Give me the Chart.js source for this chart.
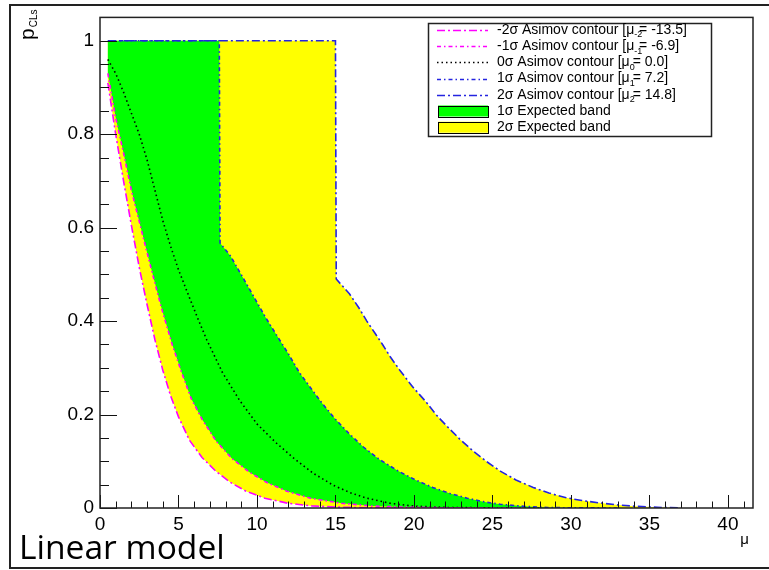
<!DOCTYPE html>
<html><head><meta charset="utf-8">
<script src="https://cdn.jsdelivr.net/npm/chart.js@4"></script>
<style>html,body{margin:0;padding:0;background:#fff;}canvas{display:block;}</style>
</head><body>
<canvas id="c" width="769" height="570"></canvas>
<script>
// ---- data ----
const muM2 = [0.5, 1.0, 1.5, 2.0, 2.5, 3.0, 3.5, 4.0, 4.5, 5.0, 5.7, 6.5, 7.4, 8.3, 9.3, 10.5, 12.0, 13.5, 15.0, 17.0, 20.0, 23.0];
const pM2  = [0.91, 0.80, 0.70, 0.605, 0.515, 0.435, 0.36, 0.295, 0.24, 0.195, 0.145, 0.108, 0.078, 0.055, 0.036, 0.021, 0.010, 0.0045, 0.002, 0.0005, 0, 0];
const muM1 = [0.5, 1.0, 1.5, 2.0, 2.6, 3.2, 3.9, 4.6, 5.2, 5.8, 6.5, 7.4, 8.4, 9.5, 10.6, 11.9, 13.4, 15.4, 17.3, 19.2, 22.0, 27.0];
const pM1  = [0.93, 0.835, 0.76, 0.68, 0.60, 0.52, 0.43, 0.35, 0.29, 0.235, 0.19, 0.143, 0.106, 0.077, 0.055, 0.036, 0.021, 0.010, 0.0045, 0.002, 0.0005, 0];
const mu0  = [0.5, 1.0, 1.5, 2.0, 2.5, 3.0, 3.5, 4.0, 4.5, 5.0, 5.7, 6.3, 6.8, 7.8, 8.9, 10.0, 11.2, 12.4, 13.6, 14.9, 16.0, 17.0, 18.5, 20.0, 22.0, 25.0, 28.0];
const p0   = [0.96, 0.93, 0.89, 0.845, 0.80, 0.745, 0.68, 0.615, 0.56, 0.51, 0.45, 0.40, 0.36, 0.29, 0.23, 0.18, 0.14, 0.105, 0.074, 0.048, 0.032, 0.021, 0.010, 0.004, 0.0012, 0.0003, 0];
const muP1 = [0.5, 7.6, 7.65, 8.3, 8.9, 9.5, 10.0, 10.6, 11.25, 12.0, 12.7, 13.4, 14.2, 15.0, 15.9, 16.8, 17.8, 19.0, 20.1, 21.2, 22.3, 23.4, 24.5, 25.5, 27.0, 28.5, 30.0, 33.0];
const pP1  = [1, 1, 0.567, 0.54, 0.505, 0.47, 0.44, 0.405, 0.37, 0.33, 0.29, 0.258, 0.222, 0.19, 0.158, 0.13, 0.104, 0.079, 0.06, 0.044, 0.031, 0.021, 0.013, 0.008, 0.0035, 0.0012, 0.0004, 0];
const muP2 = [0.5, 15.0, 15.05, 15.9, 16.5, 17.0, 17.5, 18.0, 18.5, 19.1, 19.9, 20.8, 21.4, 22.1, 22.9, 23.8, 24.6, 25.5, 26.5, 27.6, 28.6, 29.7, 30.7, 31.8, 33.0, 34.0, 35.5, 37.0];
const pP2  = [1, 1, 0.49, 0.458, 0.428, 0.40, 0.375, 0.35, 0.323, 0.295, 0.26, 0.226, 0.20, 0.175, 0.148, 0.121, 0.10, 0.079, 0.06, 0.044, 0.032, 0.022, 0.016, 0.011, 0.0065, 0.004, 0.0015, 0];

const xTickValues = [0, 5, 10, 15, 20, 25, 30, 35, 40];
const yTickValues = [0, 0.2, 0.4, 0.6, 0.8, 1];
const yTickLabels = ['0', '0.2', '0.4', '0.6', '0.8', '1'];

const legendPre  = ['-2σ Asimov contour [μ', '-1σ Asimov contour [μ', '0σ Asimov contour [μ', '1σ Asimov contour [μ', '2σ Asimov contour [μ', '1σ Expected band', '2σ Expected band'];
const legendSub  = ['-2', '-1', '0', '1', '2', '', ''];
const legendPost = ['= -13.5]', '= -6.9]', '= 0.0]', '= 7.2]', '= 14.8]', '', ''];

const xTitle = 'μ';
const yTitleMain = 'p';
const yTitleSub = 'CLs';
const caption = 'Linear model';

// ---- styles ----
const FONT = '"Liberation Sans", Arial, Helvetica, sans-serif';
const MAG = '#ff00ff', BLUE = '#2424e0', GREEN = '#00ff00', YELLOW = '#ffff00';
const DASH_LONG = [8, 3, 2, 3], DASH_SHORT = [4, 3, 1.5, 3], DOT = [1.5, 3];

function pts(xs, ys) { return xs.map((x, i) => ({x: x, y: ys[i]})); }
const band2 = pts(muM2, pM2).concat(pts(muP2, pP2).reverse());
const band1 = pts(muM1, pM1).concat(pts(muP1, pP1).reverse());

function lineDs(label, data, color, dash, order) {
  return {label, data, borderColor: color, borderDash: dash, borderWidth: 1.6, pointRadius: 0, tension: 0, fill: false, order};
}

const decor = {
  id: 'decor',
  afterDatasetsDraw(chart) {
    const ctx = chart.ctx, a = chart.chartArea, xs = chart.scales.x, ys = chart.scales.y;
    ctx.save();
    ctx.strokeStyle = '#111';
    ctx.lineWidth = 1;
    ctx.beginPath();
    for (let v = 0; v <= 41; v++) {
      const px = Math.round(xs.getPixelForValue(v)) + 0.5;
      const len = v % 5 === 0 ? 13 : 6.5;
      ctx.moveTo(px, a.bottom); ctx.lineTo(px, a.bottom - len);
    }
    for (let k = 0; k <= 20; k++) {
      const py = Math.round(ys.getPixelForValue(k * 0.05)) + 0.5;
      const len = k % 4 === 0 ? 17 : 9;
      ctx.moveTo(a.left, py); ctx.lineTo(a.left + len, py);
    }
    ctx.stroke();
    ctx.lineWidth = 1.5;
    ctx.strokeStyle = '#222';
    ctx.strokeRect(a.left, a.top, a.right - a.left, a.bottom - a.top);
    ctx.restore();
  },
  afterDraw(chart) {
    const ctx = chart.ctx;
    ctx.save();
    // outer picture border
    ctx.strokeStyle = '#222'; ctx.lineWidth = 2;
    ctx.beginPath(); ctx.moveTo(775, 5); ctx.lineTo(10, 5); ctx.lineTo(10, 568); ctx.lineTo(775, 568); ctx.stroke();

    // legend
    const L = 428, T = 23, W = 284, H = 114;
    ctx.fillStyle = '#fff'; ctx.fillRect(L, T, W, H);
    ctx.strokeStyle = '#222'; ctx.lineWidth = 1.5; ctx.strokeRect(L + 0.5, T + 0.5, W - 1, H - 1);
    const lineStyles = [[MAG, DASH_LONG], [MAG, DASH_SHORT], ['#000', DOT], [BLUE, DASH_SHORT], [BLUE, DASH_LONG]];
    for (let i = 0; i < legendPre.length; i++) {
      const y = 30 + 16.2 * i;
      if (i < 5) {
        ctx.save();
        ctx.strokeStyle = lineStyles[i][0]; ctx.lineWidth = 1.6; ctx.setLineDash(lineStyles[i][1]);
        ctx.beginPath(); ctx.moveTo(437, Math.round(y) + 0.5); ctx.lineTo(488, Math.round(y) + 0.5); ctx.stroke();
        ctx.restore();
      } else {
        ctx.fillStyle = i === 5 ? GREEN : YELLOW;
        ctx.fillRect(438, y - 5.5, 50, 11);
        ctx.strokeStyle = '#000'; ctx.lineWidth = 1; ctx.strokeRect(438.5, Math.round(y - 5.5) + 0.5, 50, 11);
      }
      ctx.fillStyle = '#000'; ctx.textBaseline = 'middle'; ctx.textAlign = 'left';
      ctx.font = '14px ' + FONT;
      let x = 497;
      ctx.fillText(legendPre[i], x, y);
      x += ctx.measureText(legendPre[i]).width;
      if (legendSub[i]) {
        ctx.font = '9px ' + FONT;
        ctx.fillText(legendSub[i], x, y + 5);
        x += ctx.measureText(legendSub[i]).width * 0.6;
        ctx.font = '14px ' + FONT;
        ctx.fillText(legendPost[i], x, y);
      }
    }

    // x title
    ctx.fillStyle = '#000';
    ctx.font = '15px ' + FONT; ctx.textAlign = 'right'; ctx.textBaseline = 'alphabetic';
    ctx.fillText(xTitle, 749, 544);

    // y title (rotated)
    ctx.save();
    ctx.translate(34, 40); ctx.rotate(-Math.PI / 2);
    ctx.textAlign = 'left'; ctx.textBaseline = 'alphabetic';
    ctx.font = '21px ' + FONT;
    ctx.fillText(yTitleMain, 0, 0);
    const pw = ctx.measureText(yTitleMain).width;
    ctx.font = '10px ' + FONT;
    ctx.fillText(yTitleSub, pw + 1, 3);
    ctx.restore();

    // caption, sized to the reference width
    ctx.textAlign = 'left'; ctx.textBaseline = 'alphabetic';
    ctx.font = '30px "Open Sans", Lato, sans-serif';
    const cw = ctx.measureText(caption).width;
    const size = Math.max(24, Math.min(36, 30 * 206 / cw));
    ctx.font = size.toFixed(1) + 'px "Open Sans", Lato, sans-serif';
    ctx.fillText(caption, 19, 559);
    ctx.restore();
  }
};

new Chart(document.getElementById('c'), {
  type: 'line',
  data: {
    datasets: [
      lineDs('-2σ Asimov contour', pts(muM2, pM2), MAG, DASH_LONG, 0),
      lineDs('-1σ Asimov contour', pts(muM1, pM1), MAG, DASH_SHORT, 1),
      lineDs('0σ Asimov contour', pts(mu0, p0), '#000', DOT, 2),
      lineDs('1σ Asimov contour', pts(muP1, pP1), BLUE, DASH_SHORT, 3),
      lineDs('2σ Asimov contour', pts(muP2, pP2), BLUE, DASH_LONG, 4),
      {label: '1σ Expected band', data: band1, fill: 'shape', backgroundColor: GREEN, borderColor: 'rgba(0,0,0,0)', borderWidth: 0, pointRadius: 0, tension: 0, order: 5},
      {label: '2σ Expected band', data: band2, fill: 'shape', backgroundColor: YELLOW, borderColor: 'rgba(0,0,0,0)', borderWidth: 0, pointRadius: 0, tension: 0, order: 6}
    ]
  },
  options: {
    responsive: false, animation: false, devicePixelRatio: 1,
    layout: {padding: {left: 0, right: 16, top: 12, bottom: 0}},
    plugins: {legend: {display: false}, tooltip: {enabled: false}},
    elements: {line: {borderCapStyle: 'butt'}},
    scales: {
      x: {
        type: 'linear', min: 0, max: 41.6,
        grid: {display: false, drawTicks: false}, border: {display: false},
        ticks: {color: '#000', font: {family: FONT, size: 19}, padding: 5, maxRotation: 0, autoSkip: false, callback: (v) => String(v)},
        afterBuildTicks: (s) => { s.ticks = xTickValues.map(v => ({value: v})); },
        afterFit: (s) => { s.height = 62; }
      },
      y: {
        type: 'linear', min: 0, max: 1.05,
        grid: {display: false, drawTicks: false}, border: {display: false},
        ticks: {color: '#000', font: {family: FONT, size: 19}, padding: 6, autoSkip: false, callback: (v, i) => yTickLabels[i]},
        afterBuildTicks: (s) => { s.ticks = yTickValues.map(v => ({value: v})); },
        afterFit: (s) => { s.width = 100; }
      }
    }
  },
  plugins: [decor]
});
</script>
</body></html>
